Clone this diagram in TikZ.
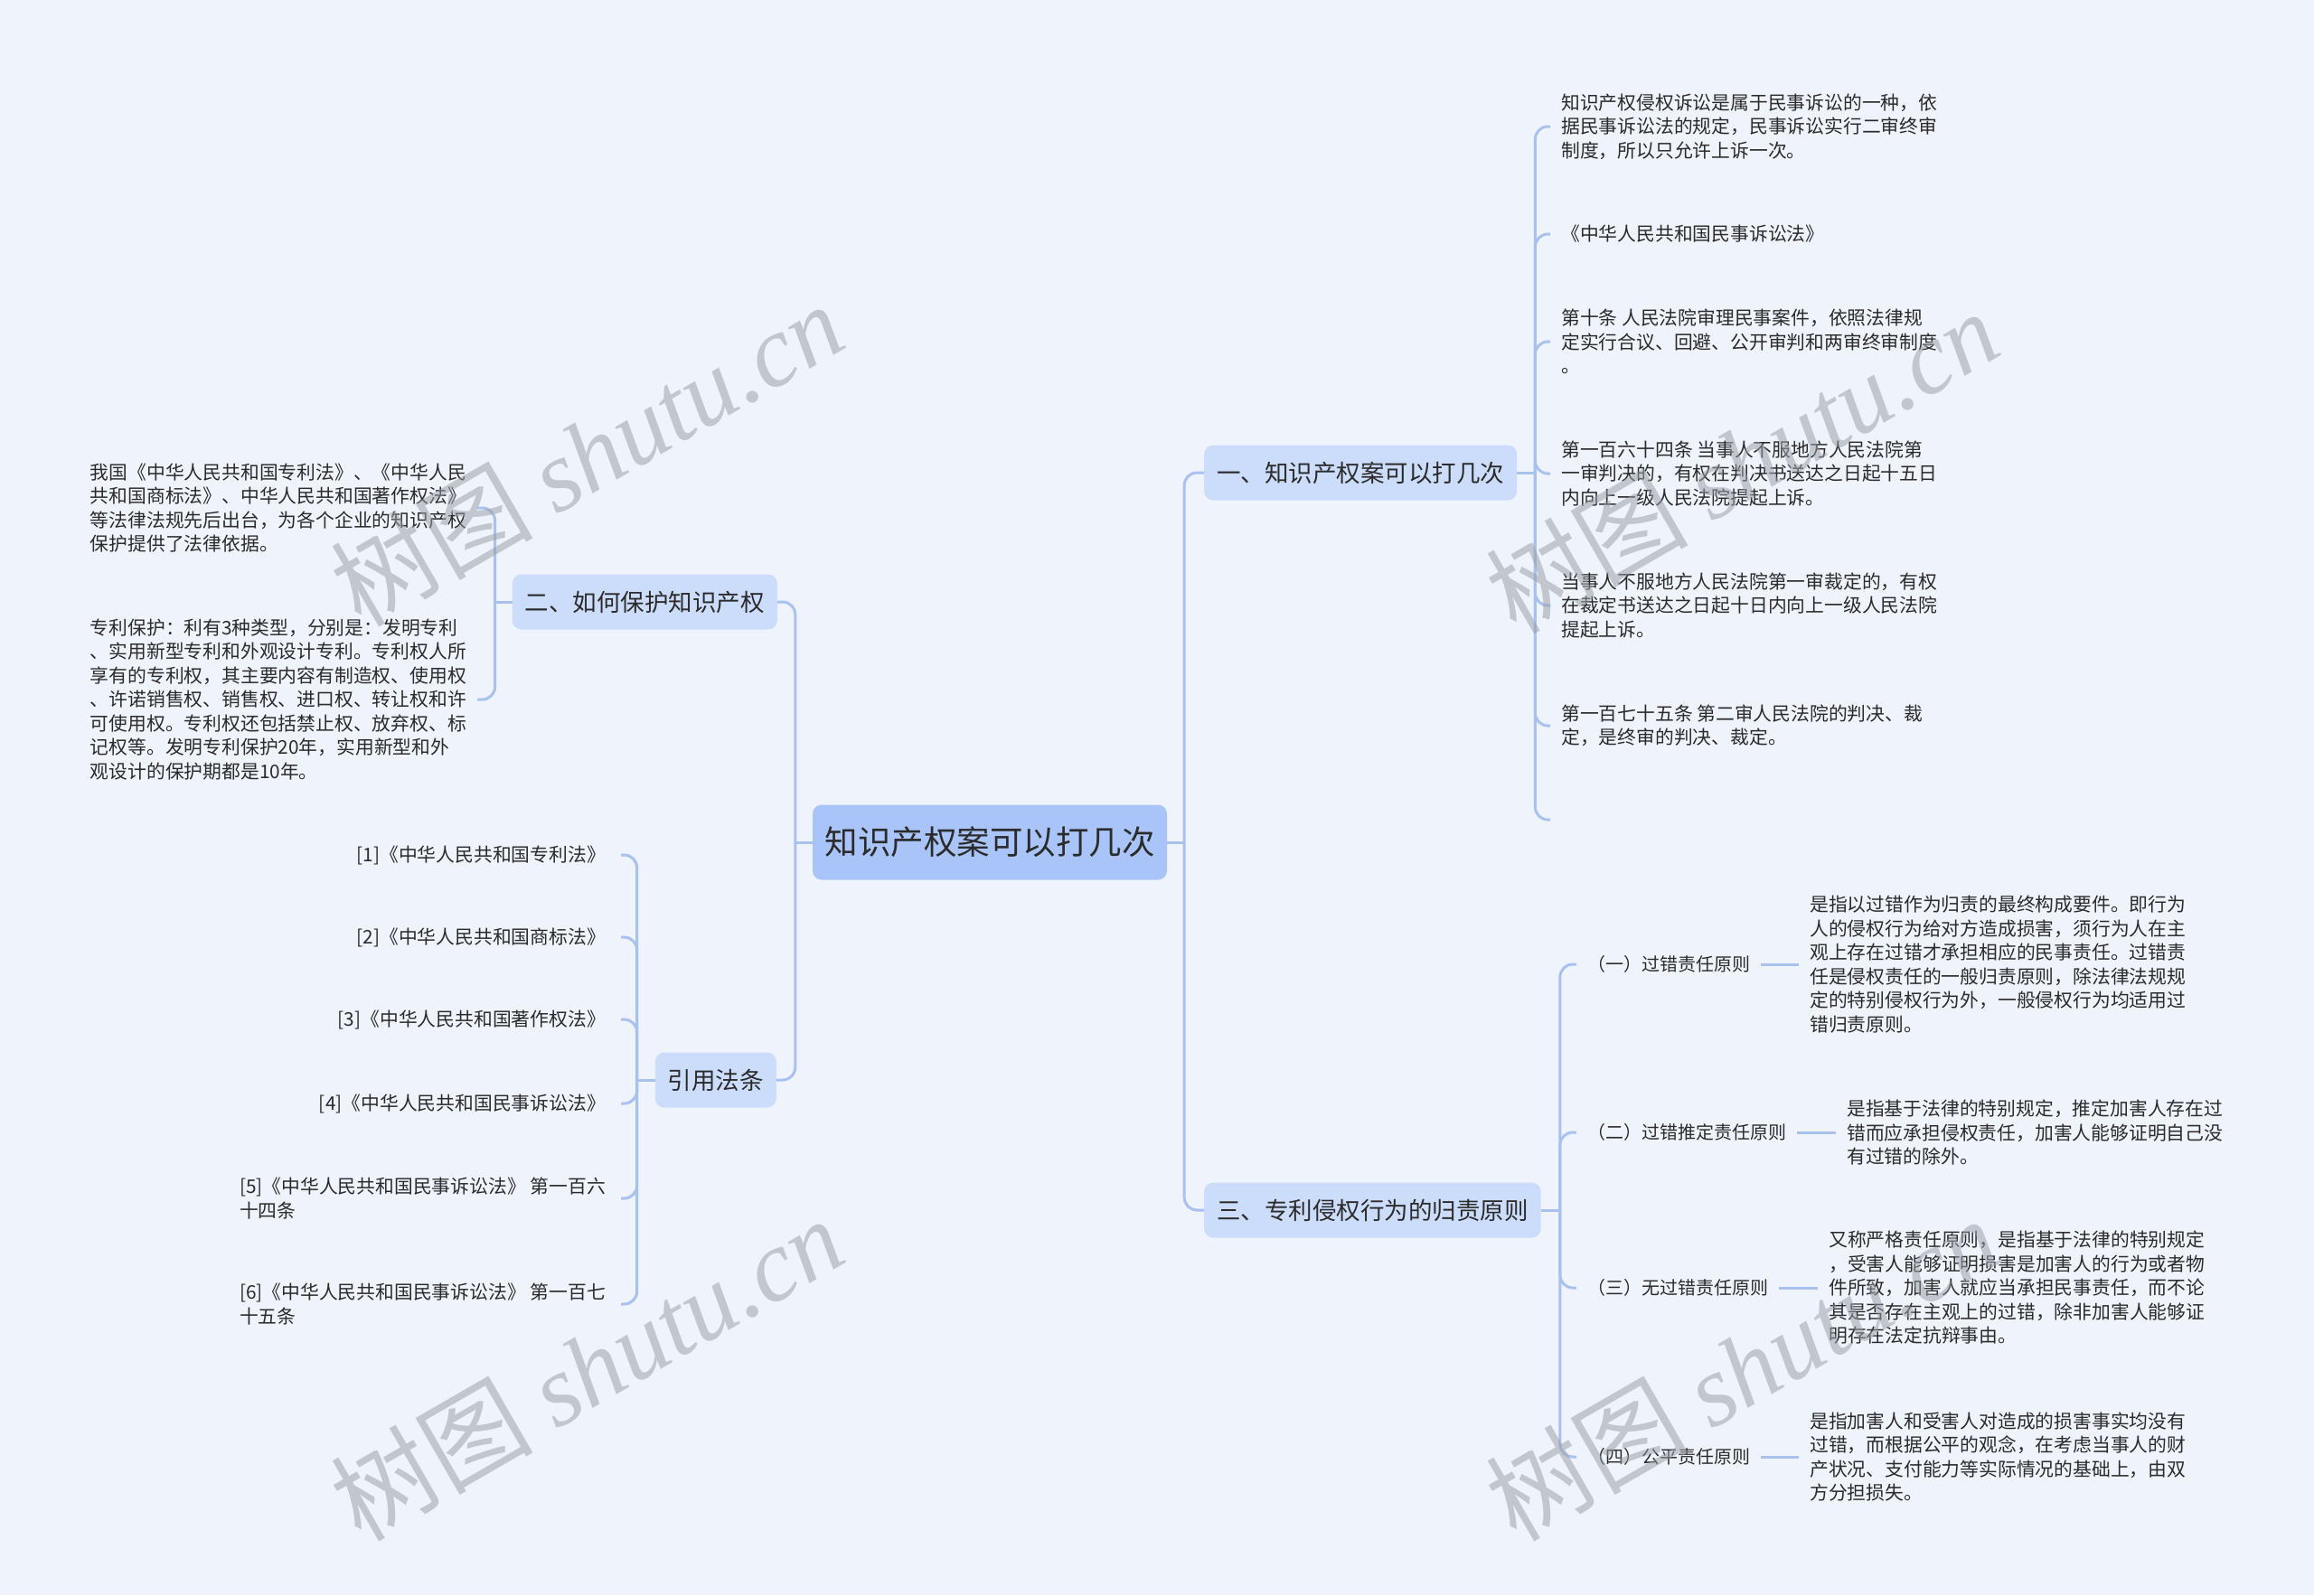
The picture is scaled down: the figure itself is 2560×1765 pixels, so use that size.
\documentclass[tikz,border=0pt]{standalone}
\usepackage{fontspec}
\setmainfont{Noto Sans CJK SC}
\newfontfamily\wmlatin{Liberation Serif}
\newfontfamily\wmcjk{Noto Sans CJK SC}
\definecolor{bg}{HTML}{EEF3FC}
\definecolor{rootfill}{HTML}{A9C4F8}
\definecolor{brfill}{HTML}{CCDCFB}
\definecolor{linec}{HTML}{A9C1EE}
\definecolor{txt}{HTML}{2B2B2B}
\definecolor{wmc}{HTML}{9A9EA6}
\begin{document}
\begin{tikzpicture}[x=1pt,y=-1pt,
  conn/.style={draw=linec, line width=3pt, rounded corners=14pt},
  rootbox/.style={fill=rootfill, rounded corners=10pt, minimum width=392pt, minimum height=83pt, font=\fontsize{36.5}{44}\selectfont, text=txt},
  brbox/.style={fill=brfill, rounded corners=10pt, minimum height=61pt, inner xsep=14pt, font=\fontsize{26.5}{32}\selectfont, text=txt},
  leaf/.style={font=\fontsize{20.8}{26.5}\selectfont, align=left, inner ysep=0pt, inner xsep=12pt, text=txt},
  sub/.style={font=\fontsize{20}{26}\selectfont, inner ysep=0pt, inner xsep=12pt, text=txt},
  wm/.style={rotate=30, text=wmc, opacity=0.52, font=\fontsize{112}{120}\selectfont}
]
\fill[bg] (0,0) rectangle (2560,1765);
\useasboundingbox (0,0) rectangle (2560,1765);

% root and main branches
\node[rootbox] (root) at (1095,932) {知识产权案可以打几次};
\node[brbox, anchor=west] (b1) at (1332,523) {一、知识产权案可以打几次};
\node[brbox, anchor=west] (b3) at (1332,1339) {三、专利侵权行为的归责原则};
\node[brbox, anchor=east] (b2) at (860,666) {二、如何保护知识产权};
\node[brbox, anchor=east] (b4) at (859,1195) {引用法条};

% branch 1 leaves
\node[leaf, anchor=west] (a1) at (1715,140) {知识产权侵权诉讼是属于民事诉讼的一种，依\\据民事诉讼法的规定，民事诉讼实行二审终审\\制度，所以只允许上诉一次。};
\node[leaf, anchor=west] (a2) at (1715,259) {《中华人民共和国民事诉讼法》};
\node[leaf, anchor=west] (a3) at (1715,378) {第十条 人民法院审理民事案件，依照法律规\\定实行合议、回避、公开审判和两审终审制度\\。};
\node[leaf, anchor=west] (a4) at (1715,524) {第一百六十四条 当事人不服地方人民法院第\\一审判决的，有权在判决书送达之日起十五日\\内向上一级人民法院提起上诉。};
\node[leaf, anchor=west] (a5) at (1715,670) {当事人不服地方人民法院第一审裁定的，有权\\在裁定书送达之日起十日内向上一级人民法院\\提起上诉。};
\node[leaf, anchor=west] (a6) at (1715,803) {第一百七十五条 第二审人民法院的判决、裁\\定，是终审的判决、裁定。};
\coordinate (a7) at (1715,907);

% branch 2 leaves
\node[leaf, anchor=east] (m1) at (528,562) {我国《中华人民共和国专利法》、《中华人民\\共和国商标法》、中华人民共和国著作权法》\\等法律法规先后出台，为各个企业的知识产权\\保护提供了法律依据。};
\node[leaf, anchor=east] (m2) at (528,774) {专利保护：利有3种类型，分别是：发明专利\\、实用新型专利和外观设计专利。专利权人所\\享有的专利权，其主要内容有制造权、使用权\\、许诺销售权、销售权、进口权、转让权和许\\可使用权。专利权还包括禁止权、放弃权、标\\记权等。发明专利保护20年，实用新型和外\\观设计的保护期都是10年。};

% references
\node[leaf, anchor=east, inner xsep=17pt] (r1) at (687,946) {[1]《中华人民共和国专利法》};
\node[leaf, anchor=east, inner xsep=17pt] (r2) at (687,1037) {[2]《中华人民共和国商标法》};
\node[leaf, anchor=east, inner xsep=17pt] (r3) at (687,1128) {[3]《中华人民共和国著作权法》};
\node[leaf, anchor=east, inner xsep=17pt] (r4) at (687,1221) {[4]《中华人民共和国民事诉讼法》};
\node[leaf, anchor=east, inner xsep=17pt] (r5) at (687,1326) {[5]《中华人民共和国民事诉讼法》 第一百六\\十四条};
\node[leaf, anchor=east, inner xsep=17pt] (r6) at (687,1443) {[6]《中华人民共和国民事诉讼法》 第一百七\\十五条};

% branch 3 children and leaves
\node[sub, anchor=west] (c1) at (1744,1067) {（一）过错责任原则};
\node[sub, anchor=west] (c2) at (1744,1253) {（二）过错推定责任原则};
\node[sub, anchor=west] (c3) at (1744,1425) {（三）无过错责任原则};
\node[sub, anchor=west] (c4) at (1744,1612) {（四）公平责任原则};
\node[leaf, anchor=west] (d1) at (1990,1067) {是指以过错作为归责的最终构成要件。即行为\\人的侵权行为给对方造成损害，须行为人在主\\观上存在过错才承担相应的民事责任。过错责\\任是侵权责任的一般归责原则，除法律法规规\\定的特别侵权行为外，一般侵权行为均适用过\\错归责原则。};
\node[leaf, anchor=west] (d2) at (2031,1253) {是指基于法律的特别规定，推定加害人存在过\\错而应承担侵权责任，加害人能够证明自己没\\有过错的除外。};
\node[leaf, anchor=west] (d3) at (2011,1425) {又称严格责任原则，是指基于法律的特别规定\\，受害人能够证明损害是加害人的行为或者物\\件所致，加害人就应当承担民事责任，而不论\\其是否存在主观上的过错，除非加害人能够证\\明存在法定抗辩事由。};
\node[leaf, anchor=west] (d4) at (1990,1612) {是指加害人和受害人对造成的损害事实均没有\\过错，而根据公平的观念，在考虑当事人的财\\产状况、支付能力等实际情况的基础上，由双\\方分担损失。};

% connectors: root
\draw[conn] (root.east) -- ([xshift=19pt]root.east);
\draw[conn] ([xshift=19pt]root.east) |- (b1.west);
\draw[conn] ([xshift=19pt]root.east) |- (b3.west);
\draw[conn] (root.west) -- ([xshift=-19pt]root.west);
\draw[conn] ([xshift=-19pt]root.west) |- (b2.east);
\draw[conn] ([xshift=-19pt]root.west) |- (b4.east);

% branch 1
\draw[conn] (b1.east) -- ([xshift=20pt]b1.east);
\foreach \n in {a1,a2,a3,a4,a5,a6}
  \draw[conn] ([xshift=20pt]b1.east) |- (\n.west);
\draw[conn] ([xshift=20pt]b1.east) |- (a7);

% branch 2
\draw[conn] (b2.west) -- ([xshift=-19pt]b2.west);
\foreach \n in {m1,m2}
  \draw[conn] ([xshift=-19pt]b2.west) |- (\n.east);

% references
\draw[conn] (b4.west) -- ([xshift=-20pt]b4.west);
\foreach \n in {r1,r2,r3,r4,r5,r6}
  \draw[conn] ([xshift=-20pt]b4.west) |- (\n.east);

% branch 3
\draw[conn] (b3.east) -- ([xshift=21pt]b3.east);
\foreach \n in {c1,c2,c3,c4}
  \draw[conn] ([xshift=21pt]b3.east) |- (\n.west);
\draw[conn] (c1.east) -- (d1.west);
\draw[conn] (c2.east) -- (d2.west);
\draw[conn] (c3.east) -- (d3.west);
\draw[conn] (c4.east) -- (d4.west);

% watermarks
\node[wm] (w1) at (649,502) {{\wmcjk 树图} {\wmlatin\itshape shutu.cn}};
\node[wm] (w2) at (1927,510) {{\wmcjk 树图} {\wmlatin\itshape shutu.cn}};
\node[wm] (w3) at (649,1514) {{\wmcjk 树图} {\wmlatin\itshape shutu.cn}};
\node[wm] (w4) at (1927,1514) {{\wmcjk 树图} {\wmlatin\itshape shutu.cn}};
\end{tikzpicture}
\end{document}
